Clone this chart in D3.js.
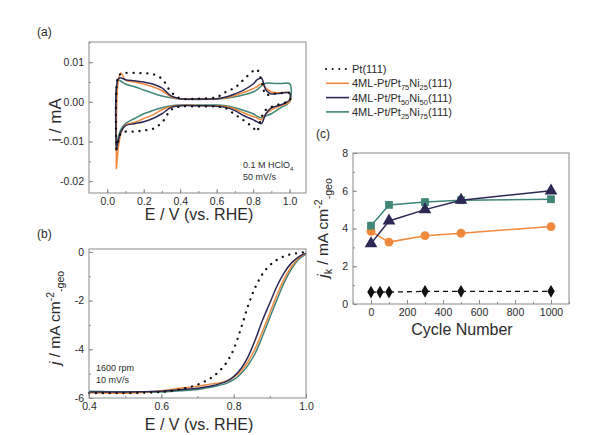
<!DOCTYPE html>
<html>
<head>
<meta charset="utf-8">
<script src="https://cdn.jsdelivr.net/npm/d3@7"></script>
<style>
  body { margin: 0; background: #fff; }
  svg { display: block; }
</style>
</head>
<body>
<svg id="fig" width="616" height="435"></svg>
<script>
// ---- data ----

// (a) cyclic voltammograms, anodic (up) and cathodic (lo) branches, i in mA
var cvUpE = [0.05, 0.06, 0.075, 0.1, 0.15, 0.2, 0.25, 0.3, 0.35, 0.4, 0.5, 0.6, 0.65, 0.7, 0.75, 0.8, 0.82, 0.845, 0.87, 0.9, 0.95, 1.0];
var cvLoE = [1.0, 0.95, 0.9, 0.87, 0.845, 0.82, 0.8, 0.75, 0.7, 0.65, 0.6, 0.5, 0.4, 0.35, 0.3, 0.25, 0.2, 0.15, 0.1, 0.075, 0.06, 0.05];

var cvPtUp = [-0.012, 0.0065, 0.007, 0.0073, 0.0073, 0.0072, 0.007, 0.0058, 0.0025, 0.0009, 0.0008, 0.0012, 0.0025, 0.0036, 0.0057, 0.0078, 0.0082, 0.0055, 0.0018, 0.002, 0.0022, 0.0022];
var cvPtLo = [0.0003, -0.0005, -0.0013, -0.002, -0.004, -0.0075, -0.0065, -0.0047, -0.0032, -0.0016, -0.0012, -0.0012, -0.0012, -0.002, -0.0052, -0.0068, -0.0072, -0.0075, -0.0075, -0.008, -0.01, -0.012];

var cvNi25Up = [-0.017, 0.005, 0.0073, 0.0055, 0.005, 0.0045, 0.0038, 0.0028, 0.0013, 0.0008, 0.0007, 0.0008, 0.001, 0.0016, 0.0024, 0.0033, 0.0038, 0.0045, 0.0035, 0.0025, 0.0023, 0.0023];
var cvNi25Lo = [0.0, -0.001, -0.002, -0.003, -0.0045, -0.004, -0.0037, -0.0028, -0.0018, -0.0012, -0.001, -0.0009, -0.0009, -0.0012, -0.002, -0.0033, -0.0042, -0.0052, -0.0058, -0.008, -0.012, -0.017];

var cvNi50Up = [-0.012, 0.0058, 0.006, 0.0056, 0.0053, 0.005, 0.0045, 0.0035, 0.0015, 0.0008, 0.0007, 0.0008, 0.0012, 0.002, 0.003, 0.0045, 0.0055, 0.006, 0.003, 0.002, 0.0022, 0.0022];
var cvNi50Lo = [0.0005, -0.0008, -0.0015, -0.003, -0.0055, -0.005, -0.0045, -0.0035, -0.0022, -0.0014, -0.0011, -0.001, -0.001, -0.0014, -0.003, -0.0042, -0.005, -0.0055, -0.006, -0.0075, -0.01, -0.012];

var cvNi75Up = [-0.011, 0.0055, 0.0052, 0.0045, 0.0038, 0.003, 0.0022, 0.0015, 0.001, 0.0007, 0.0006, 0.0007, 0.0009, 0.0013, 0.0018, 0.0025, 0.003, 0.004, 0.0047, 0.0047, 0.0046, 0.0046];
var cvNi75Lo = [0.0, -0.0015, -0.003, -0.0035, -0.004, -0.0036, -0.003, -0.0022, -0.0015, -0.001, -0.0008, -0.0008, -0.0008, -0.001, -0.0015, -0.0022, -0.003, -0.0042, -0.0055, -0.007, -0.009, -0.011];

// (b) ORR polarisation curves, j in mA cm-2
var lsvE = [0.4, 0.5, 0.6, 0.65, 0.7, 0.72, 0.74, 0.76, 0.78, 0.8, 0.82, 0.84, 0.86, 0.88, 0.9, 0.92, 0.94, 0.96, 0.98, 1.0];
var lsvPt = [-5.8, -5.8, -5.75, -5.65, -5.45, -5.32, -5.15, -4.9, -4.55, -4.0, -3.15, -2.2, -1.45, -0.9, -0.55, -0.32, -0.18, -0.09, -0.04, 0];
var lsvNi25 = [-5.78, -5.8, -5.7, -5.6, -5.52, -5.47, -5.42, -5.38, -5.3, -5.15, -4.9, -4.5, -3.95, -3.25, -2.5, -1.75, -1.1, -0.6, -0.25, -0.08];
var lsvNi50 = [-5.75, -5.75, -5.72, -5.66, -5.6, -5.55, -5.5, -5.42, -5.32, -5.12, -4.8, -4.3, -3.6, -2.8, -2.1, -1.4, -0.85, -0.45, -0.2, -0.05];
var lsvNi75 = [-5.72, -5.75, -5.75, -5.7, -5.65, -5.6, -5.55, -5.48, -5.4, -5.25, -5.0, -4.65, -4.15, -3.45, -2.7, -1.95, -1.25, -0.7, -0.3, -0.1];

// (c) kinetic current vs cycle number
var cycles = [0, 100, 300, 500, 1000];
var ptCycles = [0, 50, 100, 300, 500, 1000];
var jkPt = [0.63, 0.63, 0.63, 0.67, 0.67, 0.67];
var jkNi25 = [3.85, 3.28, 3.62, 3.75, 4.1];
var jkNi50 = [3.2, 4.4, 5.0, 5.5, 6.0];
var jkNi75 = [4.15, 5.25, 5.4, 5.5, 5.55];

// tick labels
var cvXTicks = [0.0, 0.2, 0.4, 0.6, 0.8, 1.0];
var cvYTicks = [0.01, 0.0, -0.01, -0.02];
var lsvXTicks = [0.4, 0.6, 0.8, 1.0];
var lsvYTicks = [0, -2, -4, -6];
var cycXTicks = [0, 200, 400, 600, 800, 1000];
var cycYTicks = [0, 2, 4, 6, 8];

// ---- styles ----
var FONT = "'Liberation Sans', Arial, sans-serif";
var TXT = '#2a2a2a';
var FRAME = '#8a8a8a';
var cOrange = '#f0893c';
var cNavy = '#2c2856';
var cTeal = '#3d8678';
var DOTS = '0.1,6.8';

var svg = d3.select('#fig').style('font-family', FONT);

// text with sub/superscripts and italics: parts = [[text, mode], ...]
function rich(sel, parts, base) {
    var shift = 0;
    parts.forEach(function(p) {
        var m = p[1];
        var target = m === 'sub' ? 0.28 * base : (m === 'sup' ? -0.42 * base : 0);
        var ts = sel.append('tspan').text(p[0]).attr('dy', target - shift);
        shift = target;
        if (m === 'sub' || m === 'sup') ts.attr('font-size', base * 0.68);
        if (m === 'i') ts.attr('font-style', 'italic');
    });
}

// frame + inward ticks
function drawAxes(x, y, xt, yt, xMinor, yMinor, xf, yf) {
    var g = svg.append('g');
    var y0 = y.range()[0], x0 = x.range()[0];

    g.append('g').attr('transform', 'translate(0,' + y0 + ')')
        .call(d3.axisBottom(x).tickValues(xMinor).tickSize(-2).tickFormat(''));
    g.append('g').attr('transform', 'translate(' + x0 + ',0)')
        .call(d3.axisLeft(y).tickValues(yMinor).tickSize(-2).tickFormat(''));

    g.append('g').attr('class', 'xa').attr('transform', 'translate(0,' + y0 + ')')
        .call(d3.axisBottom(x).tickValues(xt).tickSize(-4).tickPadding(5).tickFormat(xf));
    g.append('g').attr('class', 'ya').attr('transform', 'translate(' + x0 + ',0)')
        .call(d3.axisLeft(y).tickValues(yt).tickSize(-4).tickPadding(5).tickFormat(yf));

    g.selectAll('.domain').remove();
    g.selectAll('.tick line').attr('stroke', FRAME);
    g.selectAll('.tick text').attr('fill', TXT).attr('font-size', 10.5).attr('font-family', FONT);

    g.append('rect')
        .attr('x', x.range()[0]).attr('y', y.range()[1])
        .attr('width', x.range()[1] - x.range()[0])
        .attr('height', y.range()[0] - y.range()[1])
        .attr('fill', 'none').attr('stroke', FRAME).attr('stroke-width', 1);
    return g;
}

function label(x, y, t, size) {
    return svg.append('text').attr('x', x).attr('y', y)
        .attr('fill', TXT).attr('font-size', size).text(t);
}

// ================= (a) CV =================
var xA = d3.scaleLinear().domain([-0.1, 1.09]).range([89, 306]);
var yA = d3.scaleLinear().domain([-0.023, 0.0151]).range([193, 42]);

var cvLine = d3.line()
    .x(function(d) { return xA(d[0]); })
    .y(function(d) { return yA(d[1]); })
    .curve(d3.curveCatmullRom.alpha(0.5));

function loop(up, lo) {
    var pts = cvUpE.map(function(e, i) { return [e, up[i]]; });
    return pts.concat(cvLoE.map(function(e, i) { return [e, lo[i]]; }));
}

var cvSeries = [
    { d: loop(cvNi75Up, cvNi75Lo), c: cTeal },
    { d: loop(cvNi25Up, cvNi25Lo), c: cOrange },
    { d: loop(cvNi50Up, cvNi50Lo), c: cNavy }
];
svg.append('g').selectAll('path').data(cvSeries).enter().append('path')
    .attr('d', function(s) { return cvLine(s.d); })
    .attr('fill', 'none').attr('stroke', function(s) { return s.c; })
    .attr('stroke-width', 1.5);
svg.append('path').attr('d', cvLine(loop(cvPtUp, cvPtLo)))
    .attr('fill', 'none').attr('stroke', '#111').attr('stroke-width', 2.3)
    .attr('stroke-linecap', 'round').attr('stroke-dasharray', DOTS);

drawAxes(xA, yA, cvXTicks, cvYTicks,
    d3.range(0, 1.05, 0.1), d3.range(-0.02, 0.0151, 0.005),
    function(d) { return d.toFixed(1); }, function(d) { return d.toFixed(2); });

label(37, 36, '(a)', 12);
label(199, 220, 'E / V (vs. RHE)', 16).attr('text-anchor', 'middle');
svg.append('text').attr('transform', 'translate(61,120) rotate(-90)')
    .attr('text-anchor', 'middle').attr('fill', TXT).attr('font-size', 17)
    .text('i / mA');
var noteA = svg.append('text').attr('x', 243).attr('y', 168).attr('fill', TXT).attr('font-size', 9);
rich(noteA, [['0.1 M HClO', ''], ['4', 'sub']], 9);
label(243, 180, '50 mV/s', 9);

// ================= (b) LSV =================
var xB = d3.scaleLinear().domain([0.4, 1.0]).range([89, 306]);
var yB = d3.scaleLinear().domain([-6, 0.12]).range([398, 249]);

var lsvLine = d3.line()
    .x(function(d) { return xB(d[0]); })
    .y(function(d) { return yB(d[1]); })
    .curve(d3.curveMonotoneX);

function pairs(xs, ys) { return xs.map(function(v, i) { return [v, ys[i]]; }); }

var lsvSeries = [
    { d: pairs(lsvE, lsvNi75), c: cTeal },
    { d: pairs(lsvE, lsvNi25), c: cOrange },
    { d: pairs(lsvE, lsvNi50), c: cNavy }
];
svg.append('g').selectAll('path').data(lsvSeries).enter().append('path')
    .attr('d', function(s) { return lsvLine(s.d); })
    .attr('fill', 'none').attr('stroke', function(s) { return s.c; })
    .attr('stroke-width', 1.5);
svg.append('path').attr('d', lsvLine(pairs(lsvE, lsvPt)))
    .attr('fill', 'none').attr('stroke', '#111').attr('stroke-width', 2.3)
    .attr('stroke-linecap', 'round').attr('stroke-dasharray', DOTS);

drawAxes(xB, yB, lsvXTicks, lsvYTicks,
    d3.range(0.4, 1.01, 0.1), d3.range(-6, 0.01, 1),
    function(d) { return d.toFixed(1); }, function(d) { return String(d); });

label(37, 238, '(b)', 12);
label(199, 430, 'E / V (vs. RHE)', 16).attr('text-anchor', 'middle');
var tB = svg.append('text').attr('transform', 'translate(60,318) rotate(-90)')
    .attr('text-anchor', 'middle').attr('fill', TXT).attr('font-size', 15.5);
rich(tB, [['j', 'i'], [' / mA cm', ''], ['-2', 'sup'], ['-geo', 'sub']], 15.5);
label(96, 371, '1600 rpm', 9);
label(96, 383, '10 mV/s', 9);

// ================= legend =================
var legend = [
    { name: [['Pt(111)', '']], c: '#111', dot: true },
    { name: [['4ML-Pt/Pt', ''], ['75', 'sub'], ['Ni', ''], ['25', 'sub'], ['(111)', '']], c: cOrange },
    { name: [['4ML-Pt/Pt', ''], ['50', 'sub'], ['Ni', ''], ['50', 'sub'], ['(111)', '']], c: cNavy },
    { name: [['4ML-Pt/Pt', ''], ['25', 'sub'], ['Ni', ''], ['75', 'sub'], ['(111)', '']], c: cTeal }
];
legend.forEach(function(l, i) {
    var yy = 69 + i * 14.3;
    var ln = svg.append('line').attr('x1', 326).attr('x2', 349).attr('y1', yy).attr('y2', yy)
        .attr('stroke', l.c);
    if (l.dot) {
        ln.attr('stroke-width', 2).attr('stroke-linecap', 'round').attr('stroke-dasharray', '0.1,6.5');
    } else {
        ln.attr('stroke-width', 1.6);
    }
    var t = svg.append('text').attr('x', 352).attr('y', yy + 4)
        .attr('fill', TXT).attr('font-size', 11);
    rich(t, l.name, 11);
});

// ================= (c) jk vs cycles =================
var xC = d3.scaleLinear().domain([-100, 1100]).range([353, 569]);
var yC = d3.scaleLinear().domain([0, 8]).range([304, 153]);

drawAxes(xC, yC, cycXTicks, cycYTicks,
    d3.range(-100, 1101, 100), d3.range(0, 8.1, 1),
    function(d) { return String(d); }, function(d) { return String(d); });

var cLine = d3.line()
    .x(function(d) { return xC(d[0]); })
    .y(function(d) { return yC(d[1]); });

var ptPts = pairs(ptCycles, jkPt);
svg.append('path').attr('d', cLine(ptPts))
    .attr('fill', 'none').attr('stroke', '#111').attr('stroke-width', 1.3)
    .attr('stroke-dasharray', '5,4');

var cSeries = [
    { d: pairs(cycles, jkNi25), c: cOrange, sym: d3.symbolCircle, size: 62 },
    { d: pairs(cycles, jkNi75), c: cTeal, sym: d3.symbolSquare, size: 60 },
    { d: pairs(cycles, jkNi50), c: cNavy, sym: d3.symbolTriangle, size: 70 }
];
cSeries.forEach(function(s) {
    svg.append('path').attr('d', cLine(s.d))
        .attr('fill', 'none').attr('stroke', s.c).attr('stroke-width', 1.5);
    svg.append('g').selectAll('path').data(s.d).enter().append('path')
        .attr('transform', function(d) { return 'translate(' + xC(d[0]) + ',' + yC(d[1]) + ')'; })
        .attr('d', d3.symbol().type(s.sym).size(s.size))
        .attr('fill', s.c);
});
svg.append('g').selectAll('path').data(ptPts).enter().append('path')
    .attr('transform', function(d) { return 'translate(' + xC(d[0]) + ',' + yC(d[1]) + ')'; })
    .attr('d', d3.symbol().type(d3.symbolDiamond).size(48))
    .attr('fill', '#111');

label(316, 138, '(c)', 12);
label(462, 335, 'Cycle Number', 16).attr('text-anchor', 'middle');
var tC = svg.append('text').attr('transform', 'translate(328,228) rotate(-90)')
    .attr('text-anchor', 'middle').attr('fill', TXT).attr('font-size', 15.5);
rich(tC, [['j', 'i'], ['k', 'sub'], [' / mA cm', ''], ['-2', 'sup'], ['-geo', 'sub']], 15.5);
</script>
</body>
</html>
